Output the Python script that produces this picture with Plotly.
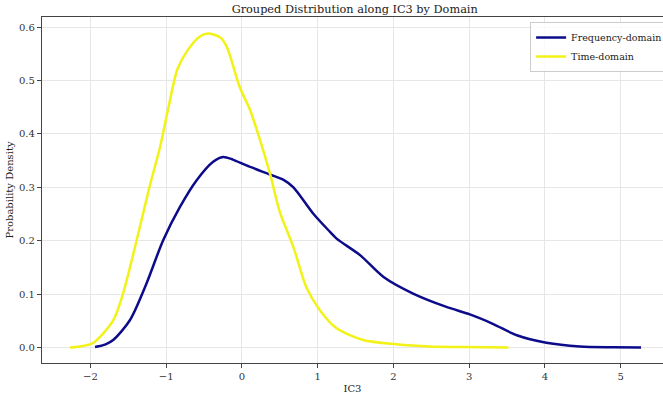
import plotly.graph_objects as go

# Data
freq_x = [-1.94, -1.80, -1.70, -1.48, -1.26, -1.04, -0.82, -0.60, -0.38, -0.25, -0.12,
          0.06, 0.37, 0.55, 0.68, 0.94, 1.16, 1.25, 1.56, 1.87, 2.26, 2.70, 3.01, 3.32,
          3.63, 4.02, 4.46, 4.90, 5.27]
freq_y = [0.001, 0.006, 0.014, 0.051, 0.120, 0.201, 0.263, 0.313, 0.348, 0.357, 0.352,
          0.341, 0.324, 0.314, 0.300, 0.251, 0.217, 0.204, 0.173, 0.132, 0.101, 0.076,
          0.062, 0.044, 0.023, 0.009, 0.002, 0.0005, 0.0]

time_x = [-2.27, -2.10, -1.96, -1.70, -1.57, -1.39, -1.22, -1.08, -0.97, -0.85, -0.72,
          -0.56, -0.45, -0.29, -0.20, -0.03, 0.11, 0.24, 0.37, 0.50, 0.68, 0.85, 1.03,
          1.25, 1.60, 2.04, 2.48, 2.92, 3.52]
time_y = [0.0, 0.003, 0.009, 0.051, 0.101, 0.201, 0.301, 0.376, 0.450, 0.522, 0.556,
          0.582, 0.588, 0.581, 0.563, 0.488, 0.444, 0.388, 0.326, 0.254, 0.188, 0.113,
          0.070, 0.036, 0.014, 0.006, 0.002, 0.001, 0.0]

series_names = ["Frequency-domain", "Time-domain"]
x_ticks = [-2, -1, 0, 1, 2, 3, 4, 5]
y_ticks = [0.0, 0.1, 0.2, 0.3, 0.4, 0.5, 0.6]

FONT = "DejaVu Serif"

fig = go.Figure()
fig.add_trace(go.Scatter(x=freq_x, y=freq_y, mode="lines", name=series_names[0],
                         line=dict(color="#0c0c8a", width=2.5, shape="spline", smoothing=0.8)))
fig.add_trace(go.Scatter(x=time_x, y=time_y, mode="lines", name=series_names[1],
                         line=dict(color="#f2f218", width=2.5, shape="spline", smoothing=0.8)))

axis_common = dict(
    showline=True, linecolor="#444444", linewidth=1.2, mirror=True,
    ticks="outside", ticklen=4, tickcolor="#444444", tickwidth=1,
    showgrid=True, gridcolor="#e6e6e6", gridwidth=1, zeroline=False,
    tickfont=dict(family=FONT, size=10, color="#333333"),
)

fig.update_layout(
    width=663, height=394,
    margin=dict(l=42, r=0, t=17, b=31, autoexpand=False),
    paper_bgcolor="white", plot_bgcolor="white",
    font=dict(family=FONT, color="#222222"),
    title=dict(text="Grouped Distribution along IC3 by Domain", x=0.535, xanchor="center",
               y=0.988, yanchor="top", font=dict(family=FONT, size=11.3, color="#222222")),
    xaxis=dict(range=[-2.64, 5.56], tickvals=x_ticks,
               ticktext=[("\u2212" + str(abs(v))) if v < 0 else str(v) for v in x_ticks],
               title=dict(text="IC3", font=dict(family=FONT, size=10), standoff=6),
               **axis_common),
    yaxis=dict(range=[-0.029, 0.619], tickvals=y_ticks,
               ticktext=[f"{v:.1f}" for v in y_ticks],
               title=dict(text="Probability Density", font=dict(family=FONT, size=10), standoff=3),
               **axis_common),
    legend=dict(x=0.786, y=0.9855, xanchor="left", yanchor="top",
                bgcolor="rgba(255,255,255,0.8)", bordercolor="#cccccc", borderwidth=1,
                font=dict(family=FONT, size=9.5, color="#222222"),
                tracegroupgap=0, itemwidth=30),
    showlegend=True,
)

fig.write_html("out.html")
